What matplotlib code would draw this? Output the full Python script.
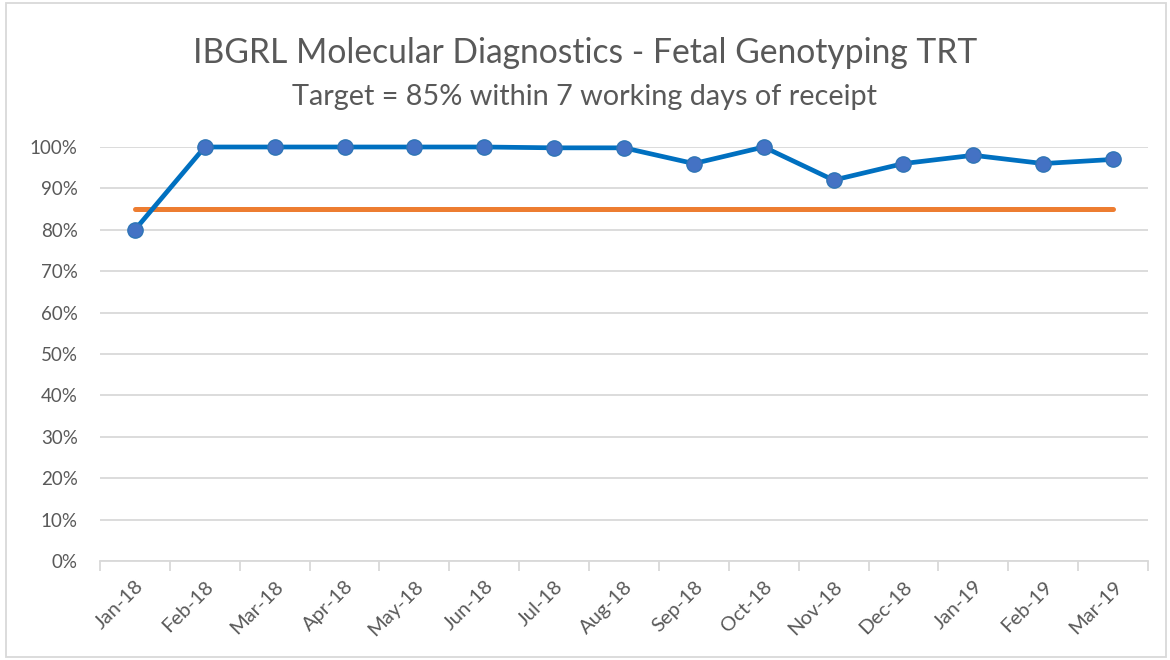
import matplotlib.pyplot as plt
from matplotlib.patches import Rectangle
from matplotlib.ticker import FixedLocator, PercentFormatter

plt.rcParams["font.family"] = ["Lato", "DejaVu Sans"]

months = ["Jan-18", "Feb-18", "Mar-18", "Apr-18", "May-18", "Jun-18", "Jul-18",
          "Aug-18", "Sep-18", "Oct-18", "Nov-18", "Dec-18", "Jan-19", "Feb-19",
          "Mar-19"]
within_target = [0.80, 1.00, 1.00, 1.00, 1.00, 1.00, 0.998, 0.998, 0.96, 1.00,
                 0.92, 0.96, 0.98, 0.96, 0.97]
target = [0.85] * len(months)

TEXT = "#595959"
GRID = "#d9d9d9"

fig = plt.figure(figsize=(11.7, 6.6), dpi=100)
ax = fig.add_axes([100 / 1170, 99 / 660, 1048 / 1170, 414 / 660])

x = list(range(len(months)))
ax.plot(x, target, color="#ED7D31", lw=3.6, solid_capstyle="round", zorder=2)
ax.plot(x, within_target, color="#0070C0", lw=3.4, marker="o", markersize=11,
        markerfacecolor="#4472C4", markeredgecolor="#2E75B6", markeredgewidth=1,
        solid_joinstyle="round", zorder=3, clip_on=False)

ax.set_xlim(-0.5, len(months) - 0.5)
ax.set_ylim(0, 1.0)
ax.set_yticks([i / 10 for i in range(11)])
ax.yaxis.set_major_formatter(PercentFormatter(1.0, decimals=0))
ax.grid(axis="y", color=GRID, lw=1.3)
ax.set_axisbelow(True)

ax.set_xticks(x)
ax.set_xticklabels(months, rotation=45, ha="right", rotation_mode="anchor")
ax.xaxis.set_minor_locator(FixedLocator([i - 0.5 for i in range(len(months) + 1)]))
ax.tick_params(axis="x", which="major", length=0, pad=12, labelsize=14.5,
               labelcolor=TEXT)
ax.tick_params(axis="x", which="minor", length=7, color=GRID, width=1.3)
ax.tick_params(axis="y", length=0, pad=16, labelsize=13.5, labelcolor=TEXT)

for side in ["top", "right", "left"]:
    ax.spines[side].set_visible(False)
ax.spines["bottom"].set_color(GRID)
ax.spines["bottom"].set_linewidth(1.3)

fig.text(0.5, 1 - 53 / 660, "IBGRL Molecular Diagnostics - Fetal Genotyping TRT",
         ha="center", va="center", fontsize=24.2, color=TEXT)
fig.text(0.5, 1 - 97 / 660, "Target = 85% within 7 working days of receipt",
         ha="center", va="center", fontsize=20.8, color=TEXT)

fig.patches.append(Rectangle((6 / 1170, 3 / 660), 1160 / 1170, 654 / 660,
                             transform=fig.transFigure, fill=False,
                             edgecolor=GRID, lw=1.3))

fig.savefig("out.png", dpi=100)
